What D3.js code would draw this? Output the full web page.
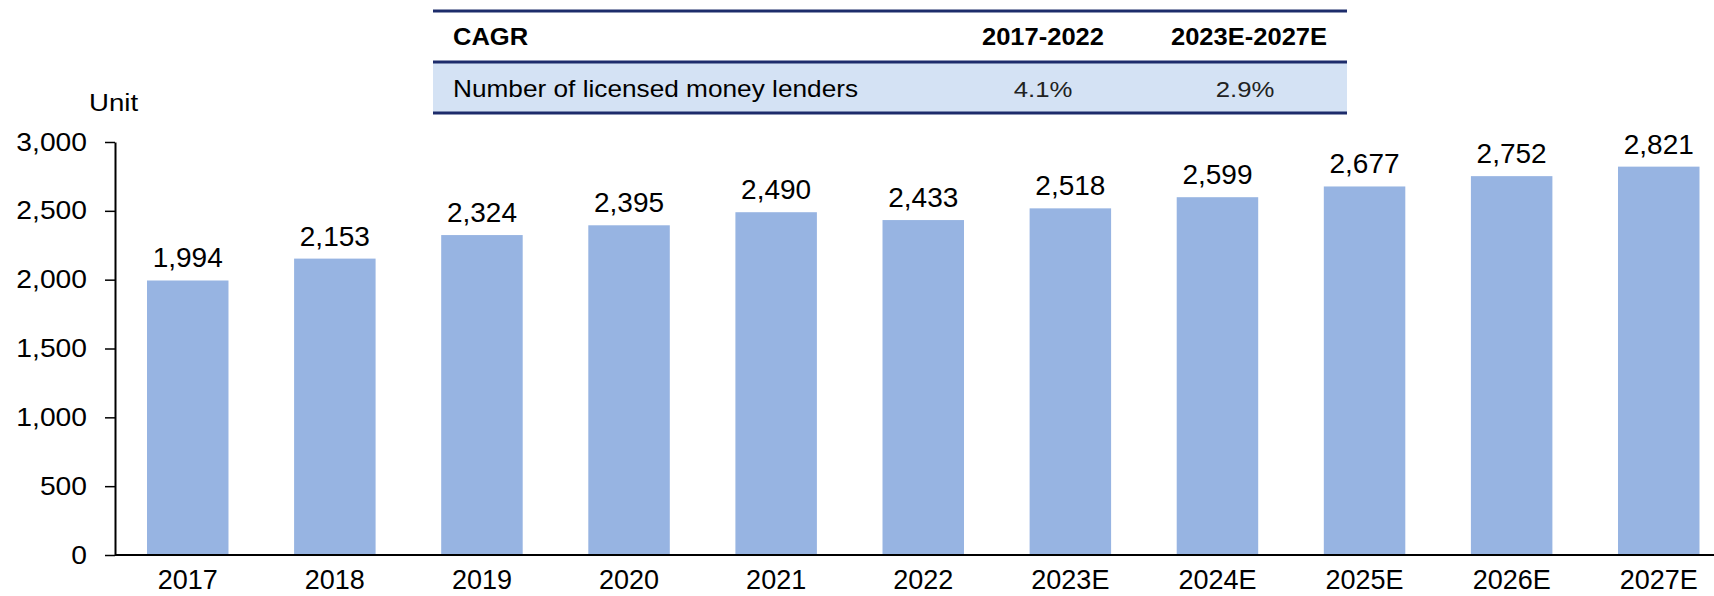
<!DOCTYPE html>
<html>
<head>
<meta charset="utf-8">
<script src="https://cdn.jsdelivr.net/npm/d3@7"></script>
<style>
  html, body { margin: 0; padding: 0; background: #ffffff; }
  svg { display: block; font-family: "Liberation Sans", Arial, sans-serif; }
</style>
</head>
<body>
<svg id="chart" width="1714" height="596"></svg>
<script>
// Number of licensed money lenders, actual and estimated
const categories = ["2017", "2018", "2019", "2020", "2021", "2022", "2023E", "2024E", "2025E", "2026E", "2027E"];
const lenders = [1994, 2153, 2324, 2395, 2490, 2433, 2518, 2599, 2677, 2752, 2821];
const yTicks = [0, 500, 1000, 1500, 2000, 2500, 3000];

// CAGR summary table
const cagrHeader = ["CAGR", "2017-2022", "2023E-2027E"];
const cagrRow = ["Number of licensed money lenders", "4.1%", "2.9%"];

const svg = d3.select("#chart");
const W = 1714;

const y = d3.scaleLinear().domain([0, 3000]).range([555, 142]);
const x = d3.scaleBand()
  .domain(categories)
  .range([115, 1731.5])
  .paddingInner(0.446)
  .paddingOuter(0.2175);

const fmt = d3.format(",");

// helper: text with a slight horizontal stretch
function stretchedText(g, tx, ty, str, opts) {
  return g.append("text")
    .attr("transform", `translate(${tx},${ty}) scale(${opts.sx || 1},1)`)
    .attr("text-anchor", opts.anchor || "start")
    .attr("font-size", opts.size)
    .attr("font-weight", opts.weight || "normal")
    .attr("fill", opts.fill || "#000")
    .text(str);
}

// bars
svg.append("g").selectAll("rect")
  .data(lenders)
  .join("rect")
  .attr("x", (d, i) => x(categories[i]))
  .attr("width", x.bandwidth())
  .attr("y", d => y(d))
  .attr("height", d => y(0) - y(d))
  .attr("fill", "#97b4e2");

// value labels
svg.append("g").selectAll("text")
  .data(lenders)
  .join("text")
  .attr("x", (d, i) => x(categories[i]) + x.bandwidth() / 2)
  .attr("y", d => y(d) - 13)
  .attr("text-anchor", "middle")
  .attr("font-size", 28)
  .attr("fill", "#000")
  .text(d => fmt(d));

// y axis
const yAxis = svg.append("g")
  .attr("transform", "translate(115,0)")
  .call(d3.axisLeft(y).tickValues(yTicks).tickFormat(fmt).tickSize(10).tickPadding(18).tickSizeOuter(0));
yAxis.select(".domain").attr("stroke", "#000").attr("stroke-width", 2);
yAxis.selectAll(".tick line").attr("stroke", "#000").attr("stroke-width", 1.5);
yAxis.selectAll(".tick text")
  .attr("font-family", "'Liberation Sans', Arial, sans-serif")
  .attr("font-size", 25)
  .attr("fill", "#000")
  .each(function () {
    const t = d3.select(this);
    const xx = +t.attr("x");
    t.attr("transform", `translate(${xx},0) scale(1.13,1)`).attr("x", 0);
  });

// x axis
const xAxis = svg.append("g")
  .attr("transform", "translate(0,555)")
  .call(d3.axisBottom(x).tickSize(0).tickPadding(15));
xAxis.select(".domain").remove();
xAxis.selectAll(".tick text")
  .attr("font-family", "'Liberation Sans', Arial, sans-serif")
  .attr("font-size", 27)
  .attr("dy", "0.7em")
  .attr("fill", "#000");
svg.append("line")
  .attr("x1", 115).attr("x2", W)
  .attr("y1", y(0)).attr("y2", y(0))
  .attr("stroke", "#000").attr("stroke-width", 2);

// unit label
stretchedText(svg, 89, 111, "Unit", { size: 24, sx: 1.15 });

// CAGR table
const tbl = svg.append("g");
const tx0 = 433, tx1 = 1347;
const colCenters = [null, 1043, 1249];
tbl.append("rect")
  .attr("x", tx0).attr("y", 62)
  .attr("width", tx1 - tx0).attr("height", 51)
  .attr("fill", "#d4e2f4");
[11, 62, 113].forEach(ly => {
  tbl.append("line")
    .attr("x1", tx0).attr("x2", tx1)
    .attr("y1", ly).attr("y2", ly)
    .attr("stroke", "#1d2c6b").attr("stroke-width", 3);
});
cagrHeader.forEach((s, i) => {
  if (i === 0) stretchedText(tbl, 453, 45, s, { size: 23, weight: "bold", sx: 1.11 });
  else stretchedText(tbl, colCenters[i], 45, s, { size: 23, weight: "bold", sx: 1.11, anchor: "middle" });
});
cagrRow.forEach((s, i) => {
  if (i === 0) stretchedText(tbl, 453, 97, s, { size: 23, sx: 1.14 });
  else stretchedText(tbl, colCenters[i] - (i === 2 ? 4 : 0), 97, s, { size: 23, sx: 1.12, anchor: "middle", fill: "#222" });
});
</script>
</body>
</html>
